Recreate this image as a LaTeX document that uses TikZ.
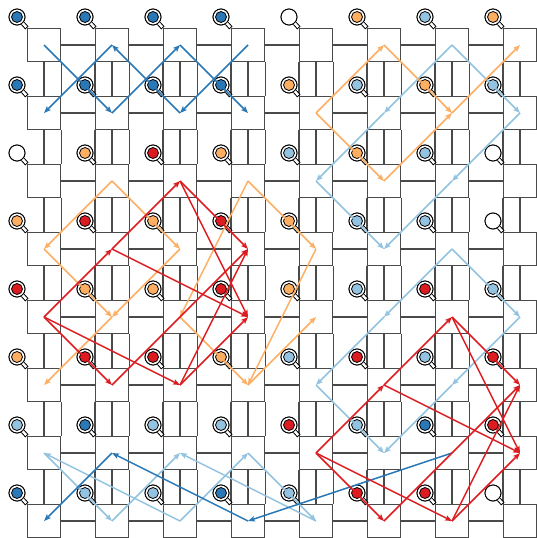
\documentclass[tikz,border=0pt]{standalone}
\usetikzlibrary{arrows.meta}
\definecolor{dkblue}{HTML}{2A78B6}
\definecolor{ltblue}{HTML}{93C3E0}
\definecolor{amber}{HTML}{FDAE61}
\definecolor{crimson}{HTML}{DD1C22}
\definecolor{wire}{HTML}{4A4A4A}
% readout dot colours, one letter per qubit
\colorlet{fillB}{dkblue}
\colorlet{fillL}{ltblue}
\colorlet{fillO}{amber}
\colorlet{fillR}{crimson}
\colorlet{fillW}{white}
\colorlet{rimB}{black}
\colorlet{rimL}{black}
\colorlet{rimO}{black}
\colorlet{rimR}{black}
\colorlet{rimW}{white}

\tikzset{
  link/.style={draw=wire, line width=1.2pt},
  qsq/.style={draw=wire, fill=white, line width=1.2pt, minimum size=33pt, inner sep=0pt},
  ring/.style={circle, draw=black, fill=white, line width=0.9pt, minimum size=16pt, inner sep=0pt},
  dot/.style={circle, line width=0.8pt, minimum size=11pt, inner sep=0pt},
  stem/.style={draw=black, line width=4.4pt},
  stemin/.style={draw=white, line width=2.4pt, shorten >=1pt},
  hop/.style={line width=1.5pt, -{Stealth[length=7pt, width=5.5pt, inset=1.5pt]}}
}

\begin{document}
\begin{tikzpicture}[x=1pt, y=-1pt]
\useasboundingbox (0,0) rectangle (537,538);

% Qubit squares
\foreach \i in {0,...,7} {
  \foreach \j in {0,...,7} {
    \node[qsq] (q\i\j) at (44+68*\i,45+68*\j) {};
  }
}

% Couplers
\foreach \i [evaluate=\i as \k using int(\i+1)] in {0,...,6} {
  \foreach \j in {0,...,7} {
    \draw[link] (q\i\j) -- (q\k\j);
    \draw[link] (q\j\i) -- (q\j\k);
  }
}

% Side walls between rows
\foreach \i [evaluate=\i as \k using int(\i+1)] in {0,...,6} {
  \foreach \j [evaluate=\j as \n using int(\j+1)] in {0,...,6} {
    \draw[link] (q\i\j.south east) -- (q\i\n.north east);
    \draw[link] (q\k\j.south west) -- (q\k\n.north west);
  }
}

% Readout pins
\foreach \row [count=\j from 0] in {{B,B,B,B,W,O,L,O},{B,B,B,B,O,L,O,L},{W,O,R,O,L,O,L,W},{O,R,O,R,O,L,L,W},{R,O,O,R,O,L,R,L},{O,R,R,O,L,R,L,R},{L,B,L,L,R,L,B,R},{B,L,L,B,L,R,R,W}} {
  \foreach \c [count=\i from 0] in \row {
    \node[ring] (r\i\j) at (17+68*\i,17+68*\j) {};
    \draw[stem] (r\i\j) -- (q\i\j.north west);
    \draw[stemin] (r\i\j.center) -- (q\i\j.north west);
    \node[ring] at (r\i\j) {};
    \node[dot, fill=fill\c, draw=rim\c] at (r\i\j) {};
  }
}

% Light blue paths
\foreach \a/\b in {60/51, 51/42, 42/53, 60/71, 71/62, 62/53, 63/54, 54/45, 45/56, 63/74, 74/65, 65/56, 27/06, 06/17, 17/26, 27/36, 36/47, 47/26}
  \draw[hop, ltblue] (q\a.center) -- (q\b.center);

% Dark blue paths
\foreach \a/\b in {00/11, 11/20, 20/31, 30/21, 21/10, 10/01, 66/37, 37/16, 16/07}
  \draw[hop, dkblue] (q\a.center) -- (q\b.center);

% Orange paths
\foreach \a/\b in {41/50, 41/52, 50/61, 52/61, 61/70, 12/03, 12/23, 03/14, 23/14, 14/05, 32/43, 32/24, 43/35, 24/35, 35/44}
  \draw[hop, amber] (q\a.center) -- (q\b.center);

% Red paths
\foreach \a/\b in {04/13, 13/22, 04/15, 04/25, 13/34, 22/33, 22/34, 15/33, 25/33, 25/34, 46/55, 55/64, 46/57, 46/67, 55/76, 64/75, 64/76, 57/75, 67/75, 67/76}
  \draw[hop, crimson] (q\a.center) -- (q\b.center);

\end{tikzpicture}
\end{document}
